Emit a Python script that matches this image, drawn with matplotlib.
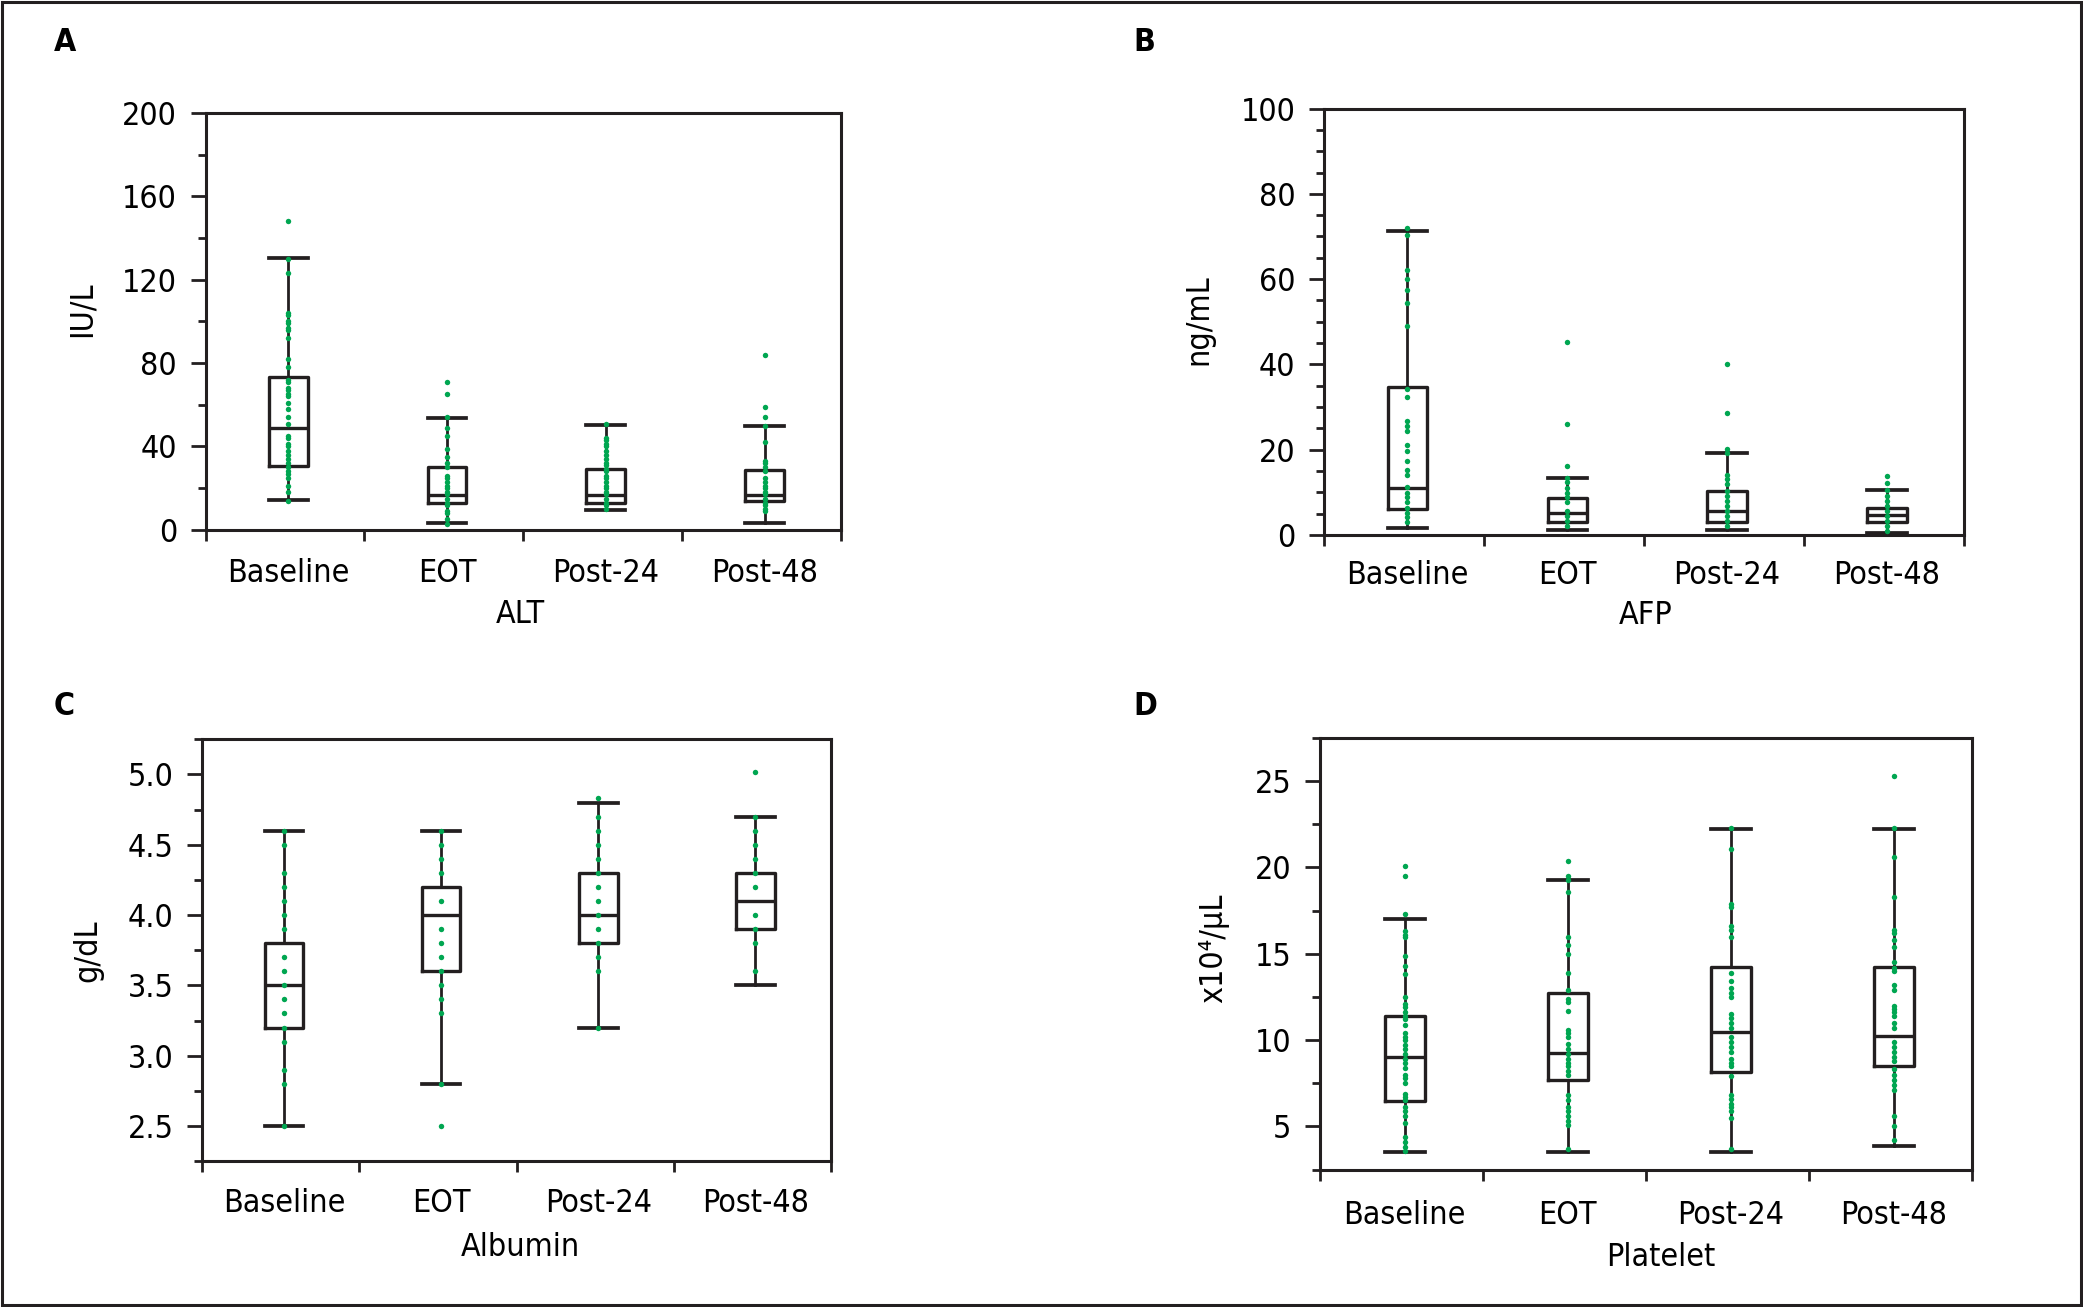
import matplotlib
matplotlib.use("Agg")
import matplotlib.pyplot as plt
import numpy as np
from matplotlib.ticker import FixedLocator, NullFormatter, FixedFormatter
from matplotlib.patches import Rectangle

plt.rcParams['font.family'] = ['DejaVu Sans']
plt.rcParams['font.stretch'] = 'condensed'

groups = ['Baseline', 'EOT', 'Post-24', 'Post-48']

# ---- ALT (IU/L) ----
alt_q1 = [30.6, 12.7, 12.9, 13.9]
alt_med = [48.7, 16.9, 16.9, 16.5]
alt_q3 = [73.2, 30.0, 29.2, 28.8]
alt_lo = [14.5, 3.4, 9.7, 3.2]
alt_hi = [130.2, 53.7, 50.5, 49.9]
alt_pts_baseline = [148, 130, 123, 104, 103, 100, 99, 97, 96, 92, 82, 78, 72, 71, 68, 67, 65,
                    64, 61, 58, 54, 51, 45, 44, 41, 40, 38, 36, 34, 32, 30, 28, 27, 25, 21, 18, 14]
alt_pts_eot = [71, 65, 54, 49, 45, 39, 35, 32, 30, 26, 25, 23, 21, 20, 18, 17, 15, 13, 12, 9, 8, 5, 3]
alt_pts_p24 = [51, 44, 43, 41, 40, 38, 36, 34, 32, 31, 29, 28, 26, 25, 23, 21, 20, 18, 17, 15, 13, 12, 10]
alt_pts_p48 = [84, 59, 54, 50, 42, 33, 32, 30, 28, 25, 23, 21, 20, 18, 17, 15, 13, 12, 10, 9]

# ---- AFP (ng/mL) ----
afp_q1 = [6.1, 3.0, 3.1, 3.0]
afp_med = [10.9, 5.1, 5.5, 4.7]
afp_q3 = [34.8, 8.6, 10.2, 6.2]
afp_lo = [1.5, 1.2, 1.2, 0.4]
afp_hi = [71.4, 13.4, 19.3, 10.5]
afp_pts_baseline = [72.1, 70.4, 62.2, 60.1, 57.4, 54.3, 48.9, 34.3, 32.4, 26.7, 25.6, 24.4, 21.1,
                    19.7, 17.4, 15.2, 14.1, 11.3, 9.9, 8.8, 7.6, 6.4, 5.2, 4.1, 2.9]
afp_pts_eot = [45.3, 26.0, 16.2, 13.4, 12.3, 11.1, 9.9, 8.8, 7.6, 5.6, 4.5, 3.3, 2.1]
afp_pts_p24 = [40.0, 28.7, 20.1, 19.3, 14.1, 13.1, 11.9, 10.3, 9.1, 8.0, 6.8, 5.6, 4.5, 3.3, 2.1]
afp_pts_p48 = [13.8, 12.1, 10.5, 9.1, 8.0, 6.8, 5.6, 4.5, 3.3, 2.1, 0.9]

# ---- Albumin (g/dL) ----
alb_q1 = [3.2, 3.6, 3.8, 3.9]
alb_med = [3.5, 4.0, 4.0, 4.1]
alb_q3 = [3.8, 4.2, 4.3, 4.3]
alb_lo = [2.5, 2.8, 3.2, 3.5]
alb_hi = [4.6, 4.6, 4.8, 4.7]
alb_pts_baseline = [4.6, 4.5, 4.3, 4.2, 4.1, 4.0, 3.9, 3.7, 3.6, 3.5, 3.4, 3.3, 3.2, 3.1, 2.9, 2.8, 2.5]
alb_pts_eot = [4.6, 4.5, 4.4, 4.3, 4.1, 3.9, 3.8, 3.7, 3.6, 3.5, 3.4, 3.3, 2.8, 2.5]
alb_pts_p24 = [4.83, 4.7, 4.6, 4.5, 4.4, 4.3, 4.2, 4.1, 4.0, 3.9, 3.8, 3.7, 3.6, 3.2]
alb_pts_p48 = [5.02, 4.7, 4.6, 4.5, 4.4, 4.3, 4.2, 4.0, 3.9, 3.8, 3.6]

# ---- Platelet (x10^4/uL) ----
plt_q1 = [6.47, 7.68, 8.13, 8.51]
plt_med = [9.03, 9.27, 10.48, 10.23]
plt_q3 = [11.39, 12.7, 14.25, 14.25]
plt_lo = [3.53, 3.53, 3.53, 3.88]
plt_hi = [17.03, 19.27, 22.22, 22.22]
plt_pts_baseline = [20.1, 19.5, 17.3, 16.3, 16.1, 16.0, 14.9, 14.3, 13.8, 12.5, 12.1, 11.9, 11.6,
                    11.4, 11.2, 10.9, 10.4, 10.2, 10.0, 9.7, 9.5, 9.2, 8.9, 8.7, 8.4, 8.0, 7.8,
                    7.5, 6.9, 6.7, 6.5, 6.1, 5.9, 5.6, 5.2, 4.4, 4.1, 3.8, 3.6]
plt_pts_eot = [20.4, 19.5, 19.3, 18.6, 16.0, 15.5, 15.0, 13.9, 12.9, 12.4, 12.2, 11.7, 10.6, 10.4,
               10.2, 9.8, 9.5, 9.2, 8.9, 8.7, 8.5, 8.2, 8.0, 6.8, 6.5, 6.1, 5.9, 5.6, 5.3, 5.1, 3.7]
plt_pts_p24 = [22.3, 21.1, 17.9, 17.7, 16.6, 16.4, 16.0, 13.9, 13.4, 13.0, 12.7, 12.5, 11.5, 11.3,
               11.0, 10.7, 10.2, 9.9, 9.6, 9.3, 8.9, 8.7, 8.5, 7.9, 6.8, 6.6, 6.3, 6.1, 5.9, 5.5, 3.7]
plt_pts_p48 = [25.3, 22.3, 20.6, 18.3, 16.4, 16.2, 15.8, 15.4, 14.5, 14.2, 14.0, 13.2, 12.9, 12.0,
               11.8, 11.6, 11.4, 11.0, 10.7, 9.9, 9.6, 9.3, 9.0, 8.8, 8.3, 8.0, 7.7, 7.4, 7.1,
               5.6, 5.0, 4.2]

BOX_COLOR = '#231f20'
DOT_COLOR = '#00a651'
FS = 23

fig = plt.figure(figsize=(20.83, 13.07), dpi=100)


def make_stats(q1, med, q3, lo, hi):
    return [dict(q1=a, med=b, q3=c, whislo=d, whishi=e, fliers=[])
            for a, b, c, d, e in zip(q1, med, q3, lo, hi)]


panels = [
    dict(rect=[0.0987, 0.5946, 0.3050, 0.3191],
         stats=make_stats(alt_q1, alt_med, alt_q3, alt_lo, alt_hi),
         pts=[alt_pts_baseline, alt_pts_eot, alt_pts_p24, alt_pts_p48],
         ylim=(0, 200), major=40, minor=20, fmt='{:.0f}',
         ylabel='IU/L', xlabel='ALT', ylab_xy=(-0.170, 0.53), xlab_xy=(0.496, -0.166),
         letter='A', letter_xy=(54, 50.6), xpad=12),
    dict(rect=[0.6356, 0.5908, 0.3072, 0.3261],
         stats=make_stats(afp_q1, afp_med, afp_q3, afp_lo, afp_hi),
         pts=[afp_pts_baseline, afp_pts_eot, afp_pts_p24, afp_pts_p48],
         ylim=(0, 100), major=20, minor=5, fmt='{:.0f}',
         ylabel='ng/mL', xlabel='AFP', ylab_xy=(-0.172, 0.505), xlab_xy=(0.502, -0.153),
         letter='B', letter_xy=(1133, 50.6), xpad=10),
    dict(rect=[0.0971, 0.1116, 0.3018, 0.3228],
         stats=make_stats(alb_q1, alb_med, alb_q3, alb_lo, alb_hi),
         pts=[alb_pts_baseline, alb_pts_eot, alb_pts_p24, alb_pts_p48],
         ylim=(2.25, 5.25), major=0.5, minor=0.25, fmt='{:.1f}',
         ylabel='g/dL', xlabel='Albumin', ylab_xy=(-0.158, 0.50), xlab_xy=(0.506, -0.168),
         letter='C', letter_xy=(54, 715), xpad=11),
    dict(rect=[0.6337, 0.1052, 0.3130, 0.3301],
         stats=make_stats(plt_q1, plt_med, plt_q3, plt_lo, plt_hi),
         pts=[plt_pts_baseline, plt_pts_eot, plt_pts_p24, plt_pts_p48],
         ylim=(2.5, 27.5), major=5, minor=2.5, fmt='{:.0f}',
         ylabel='x10⁴/µL', xlabel='Platelet', ylab_xy=(-0.139, 0.512), xlab_xy=(0.522, -0.167),
         letter='D', letter_xy=(1133, 715), xpad=14),
]

pos = np.arange(len(groups)) + 0.52

for p in panels:
    ax = fig.add_axes(p['rect'])
    ax.bxp(p['stats'], positions=pos, widths=0.245, showfliers=False,
           boxprops=dict(color=BOX_COLOR, linewidth=2.4),
           medianprops=dict(color=BOX_COLOR, linewidth=2.4),
           whiskerprops=dict(color=BOX_COLOR, linewidth=2.0),
           capprops=dict(color=BOX_COLOR, linewidth=2.7),
           capwidths=0.245, manage_ticks=False, zorder=2)
    for x, vals in zip(pos, p['pts']):
        ax.plot(np.full(len(vals), x), vals, 'o', color=DOT_COLOR, markersize=3.9,
                markeredgewidth=0, zorder=3)
    ax.set_xlim(0, 4)
    ax.set_ylim(*p['ylim'])
    allt = np.arange(p['ylim'][0], p['ylim'][1] + 1e-9, p['minor'])
    majors = [v for v in allt if abs((v / p['major']) - round(v / p['major'])) < 1e-6]
    minors = [v for v in allt if v not in majors]
    ax.yaxis.set_major_locator(FixedLocator(majors))
    ax.yaxis.set_minor_locator(FixedLocator(minors))
    ax.set_yticklabels([p['fmt'].format(v) for v in majors])
    ax.xaxis.set_major_locator(FixedLocator([0, 1, 2, 3, 4]))
    ax.xaxis.set_major_formatter(NullFormatter())
    ax.xaxis.set_minor_locator(FixedLocator(list(pos)))
    ax.xaxis.set_minor_formatter(FixedFormatter(groups))
    ax.tick_params(axis='y', which='major', length=10.5, width=2, labelsize=FS, pad=10, color=BOX_COLOR)
    ax.tick_params(axis='y', which='minor', length=5.5, width=2, color=BOX_COLOR)
    ax.tick_params(axis='x', which='major', length=8, width=2, color=BOX_COLOR)
    ax.tick_params(axis='x', which='minor', length=0, labelsize=FS, pad=p['xpad'] + 8)
    for s in ax.spines.values():
        s.set_linewidth(2.2)
        s.set_color(BOX_COLOR)
    ax.set_ylabel(p['ylabel'], fontsize=FS)
    ax.yaxis.set_label_coords(*p['ylab_xy'])
    ax.set_xlabel(p['xlabel'], fontsize=FS)
    ax.xaxis.set_label_coords(*p['xlab_xy'])
    lx, ly = p['letter_xy']
    fig.text(lx / 2083, 1 - ly / 1307, p['letter'], fontsize=FS, fontweight='bold',
             ha='left', va='baseline')

fig.patches.append(Rectangle((0.0008, 0.0012), 0.9984, 0.9976, transform=fig.transFigure,
                             fill=False, linewidth=2.2, edgecolor=BOX_COLOR))

fig.savefig('out.png', dpi=100)
